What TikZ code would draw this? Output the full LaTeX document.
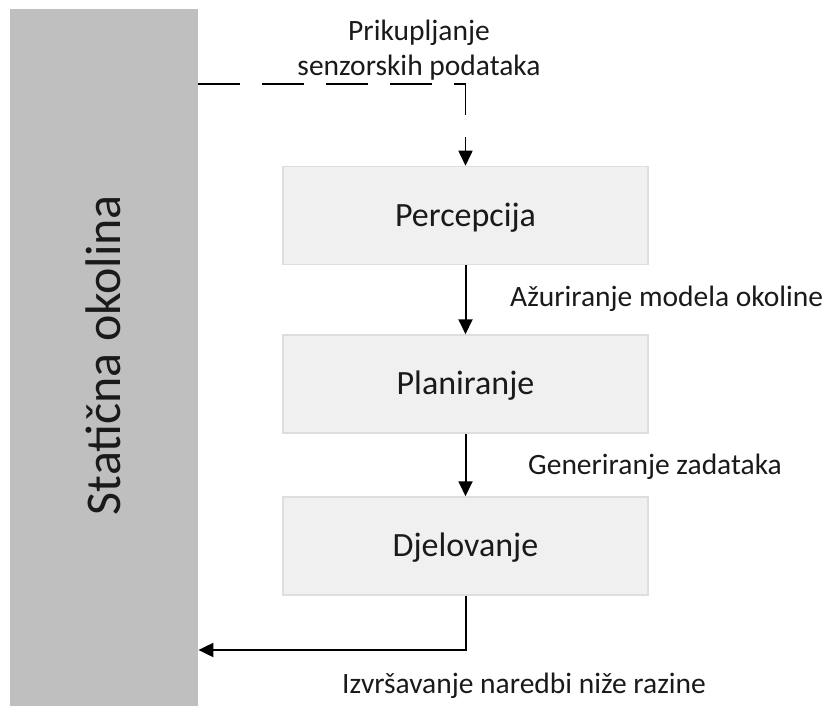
\documentclass[tikz,border=0pt]{standalone}
\usepackage{fontspec}
\setmainfont{Carlito}
\usetikzlibrary{arrows.meta}
\definecolor{envgray}{HTML}{BFBFBF}
\definecolor{boxfill}{HTML}{F0F0F0}
\definecolor{boxline}{HTML}{DEDEDE}
\definecolor{ink}{HTML}{1A1A1A}
\tikzset{
  envbox/.style={fill=envgray, draw=none, inner sep=0pt, anchor=north west},
  stagebox/.style={fill=boxfill, draw=boxline, line width=1.5pt, minimum width=365pt, minimum height=98pt,
    inner sep=0pt, text=ink, font=\fontsize{34}{40}\selectfont, text height=21.5pt, text depth=0pt},
  lbl/.style={text=ink, inner sep=0pt, font=\fontsize{29.5}{35}\selectfont},
  flow/.style={draw=black, line width=2pt, -{Triangle[length=15pt,width=14pt]}},
  dashflow/.style={draw=black, line width=1.6pt, dash pattern=on 42pt off 22pt, -{Triangle[length=15pt,width=14pt]}}
}
\begin{document}
\begin{tikzpicture}[x=1pt,y=-1pt]
\useasboundingbox (0,0) rectangle (830,706);
\node[envbox, minimum width=188pt, minimum height=705pt] (env) at (10,9) {};
\node[rotate=90, text=ink, inner sep=0pt, font=\fontsize{50}{60}\selectfont, anchor=base] (envtxt) at (120,355) {Statična okolina};

\node[stagebox] (perc) at (465.5,215.5) {Percepcija};
\node[stagebox] (plan) at (465.5,384) {Planiranje};
\node[stagebox] (djel) at (465.5,546) {Djelovanje};

\coordinate (topy) at (0,84);
\coordinate (boty) at (0,650);

\draw[dashflow] (env.east |- topy) -| (perc.north);
\draw[flow] (perc) -- (plan);
\draw[flow] (plan) -- (djel);
\draw[flow] (djel.south) |- (env.east |- boty);

\node[lbl, align=center, anchor=base] (l1) at (419,76) {Prikupljanje\\senzorskih podataka};
\node[lbl, anchor=base west] (l2) at (510,306) {Ažuriranje modela okoline};
\node[lbl, anchor=base west] (l3) at (528,474) {Generiranje zadataka};
\node[lbl, anchor=base west] (l4) at (342,693) {Izvršavanje naredbi niže razine};
\end{tikzpicture}
\end{document}
